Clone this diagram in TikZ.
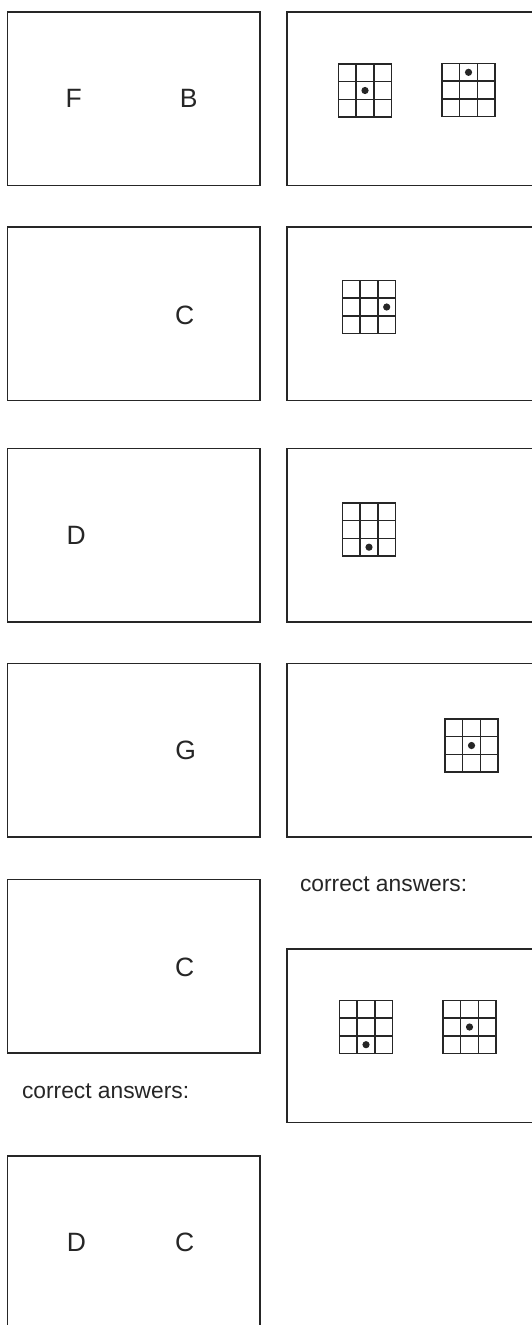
\documentclass[tikz,border=0pt]{standalone}
\usepackage{fontspec}
\setmainfont{Liberation Sans}
\definecolor{trialInk}{HTML}{262626}
\tikzset{
  trial sheet/.style={
    x=0.5pt, y=-0.5pt,
    every node/.style={inner sep=0pt, outer sep=0pt, text=trialInk}
  },
  trial box/.style={draw=trialInk, line width=0.7pt},
  trial grid/.style={draw=trialInk, line width=0.7pt, line cap=rect},
  trial letter/.style={font=\fontsize{13.25}{15.9}\selectfont, anchor=center},
  trial note/.style={font=\fontsize{11.4}{13.7}\selectfont, anchor=base west}
}
\newcommand{\TrialBox}[2]{%
  \draw[trial box] (#1,#2) rectangle ++(252.5,173.5);
}
\newcommand{\TrialGrid}[4]{%
  \foreach \k in {0,...,3} {
    \draw[trial grid] (#1+\k*17.67,#2) -- ++(0,53);
    \draw[trial grid] (#1,#2+\k*17.67) -- ++(53,0);
  }
  \fill[trialInk] (#1+#3*17.67-8.83,#2+#4*17.67-8.83) circle[radius=1.8pt];
}
\begin{document}
\begin{tikzpicture}[trial sheet]
    \useasboundingbox (0,0) rectangle (531,1325);
    \TrialBox{7.5}{12}
    \TrialBox{7.5}{227}
    \TrialBox{7.5}{448.5}
    \TrialBox{7.5}{663.5}
    \TrialBox{7.5}{879.5}
    \TrialBox{7.5}{1156}
    \TrialBox{287}{12}
    \TrialBox{287}{227}
    \TrialBox{287}{448.5}
    \TrialBox{287}{663.5}
    \TrialBox{287}{949}
    \node[trial letter] (r1a) at (73.8,98.2) {F};
    \node[trial letter] (r1b) at (188.6,98.2) {B};
    \node[trial letter] (r2b) at (184.6,315) {C};
    \node[trial letter] (r3a) at (76.2,535.7) {D};
    \node[trial letter] (r4b) at (185.6,750.7) {G};
    \node[trial letter] (r5b) at (184.6,967.7) {C};
    \node[trial letter] (r6a) at (76.5,1242) {D};
    \node[trial letter] (r6b) at (184.6,1242) {C};
    \TrialGrid{338.5}{64}{2}{2}
    \TrialGrid{442}{63.5}{2}{1}
    \TrialGrid{342.5}{280.5}{3}{2}
    \TrialGrid{342.5}{503}{2}{3}
    \TrialGrid{445}{719}{2}{2}
    \TrialGrid{339.5}{1000.5}{2}{3}
    \TrialGrid{443}{1000.5}{2}{2}
    \node[trial note] (noteRight) at (300,891) {correct answers:};
    \node[trial note] (noteLeft) at (22,1098) {correct answers:};
  \end{tikzpicture}
\end{document}
